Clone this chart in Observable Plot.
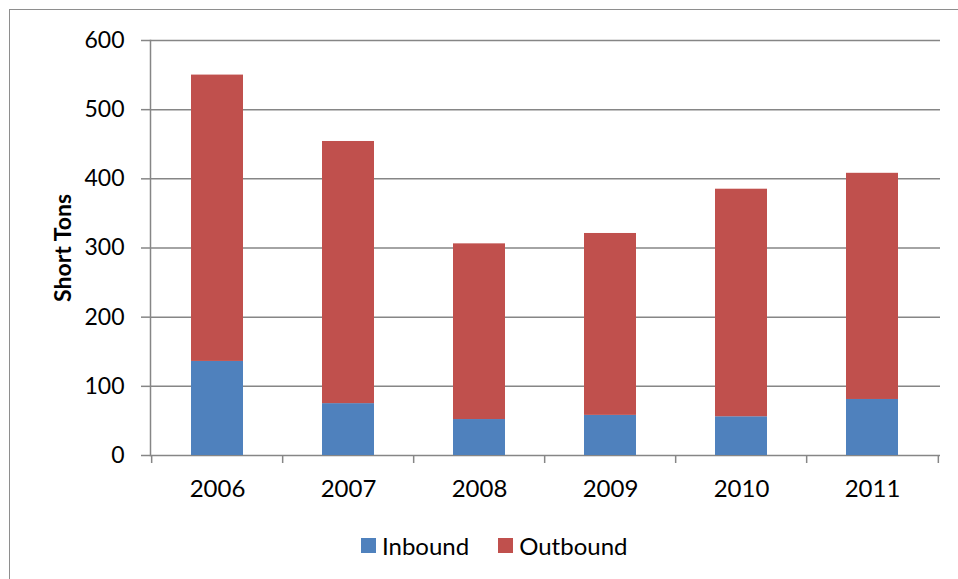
<!DOCTYPE html>
<html><head><meta charset="utf-8">
<script src="https://cdn.jsdelivr.net/npm/d3@7"></script>
<script src="https://cdn.jsdelivr.net/npm/@observablehq/plot@0.6"></script>
<style>
body{margin:0;background:#fff;}
#wrap{position:relative;width:958px;height:579px;overflow:hidden;font-family:Lato,sans-serif;}
#frame{position:absolute;left:9px;top:9px;width:1000px;height:1000px;border:1.5px solid #8e8e8e;box-sizing:border-box;pointer-events:none}
#legend{position:absolute;top:531px;left:361px;display:flex;align-items:center;font-size:24px;color:#000;}
.sw{display:inline-block;width:15px;height:15px;margin-right:6px}
.item{display:flex;align-items:center;margin-right:29px}
#ylab{position:absolute;left:62px;top:248px;transform:translate(-50%,-50%) rotate(-90deg);font-size:23px;font-weight:bold;white-space:nowrap;color:#000}
</style></head>
<body><div id="wrap"><div id="chart"></div><div id="frame"></div><div id="ylab">Short Tons</div><div id="legend"></div></div>
<script>
const years = ["2006","2007","2008","2009","2010","2011"];
const inbound = [136, 75, 52, 58, 56, 81];
const outbound = [414, 379, 254, 263, 329, 327];
const series = ["Inbound","Outbound"];
const colors = ["#4F81BD","#C0504D"];
const yTicks = [0,100,200,300,400,500,600];

const data = [];
years.forEach((y,i)=>{
  data.push({year:y, type:"Inbound", value:inbound[i]});
  data.push({year:y, type:"Outbound", value:outbound[i]});
});

const W=958, H=579, mL=150, mR=18, mT=40, mB=124;
const step=(W-mL-mR)/years.length;
const gray="#868686";

const chart = Plot.plot({
  width:W, height:H, marginLeft:mL, marginRight:mR, marginTop:mT, marginBottom:mB,
  style:{fontFamily:"Lato, sans-serif", background:"transparent", overflow:"visible"},
  x:{domain:years, paddingInner:0.6, paddingOuter:0.3, axis:null},
  y:{domain:[0,600], axis:null},
  color:{domain:series, range:colors},
  marks:[
    Plot.gridY(yTicks, {stroke:gray, strokeOpacity:1, strokeWidth:1.5}),
    Plot.barY(data, {x:"year", y:"value", fill:"type"}),
    Plot.axisY({ticks:yTicks, tickSize:9, tickPadding:17, fontSize:23, stroke:gray, strokeWidth:1.5, fill:"#000", label:null}),
    Plot.axisX({tickSize:0, tickPadding:24, fontSize:24, fill:"#000", label:null}),
    Plot.frame({anchor:"left", stroke:gray, strokeWidth:1.5}),
    Plot.ruleX(years, {x:d=>d, dx:-step/2, y1:0, y2:0, insetBottom:-8, stroke:gray, strokeWidth:1.5}),
    Plot.ruleX([years[years.length-1]], {x:d=>d, dx:step/2, y1:0, y2:0, insetBottom:-8, stroke:gray, strokeWidth:1.5})
  ]
});
document.getElementById("chart").appendChild(chart);

const leg=document.getElementById("legend");
series.forEach((s,i)=>{
  const it=document.createElement("div"); it.className="item";
  it.innerHTML=`<span class="sw" style="background:${colors[i]}"></span><span>${s}</span>`;
  leg.appendChild(it);
});
</script></body></html>
